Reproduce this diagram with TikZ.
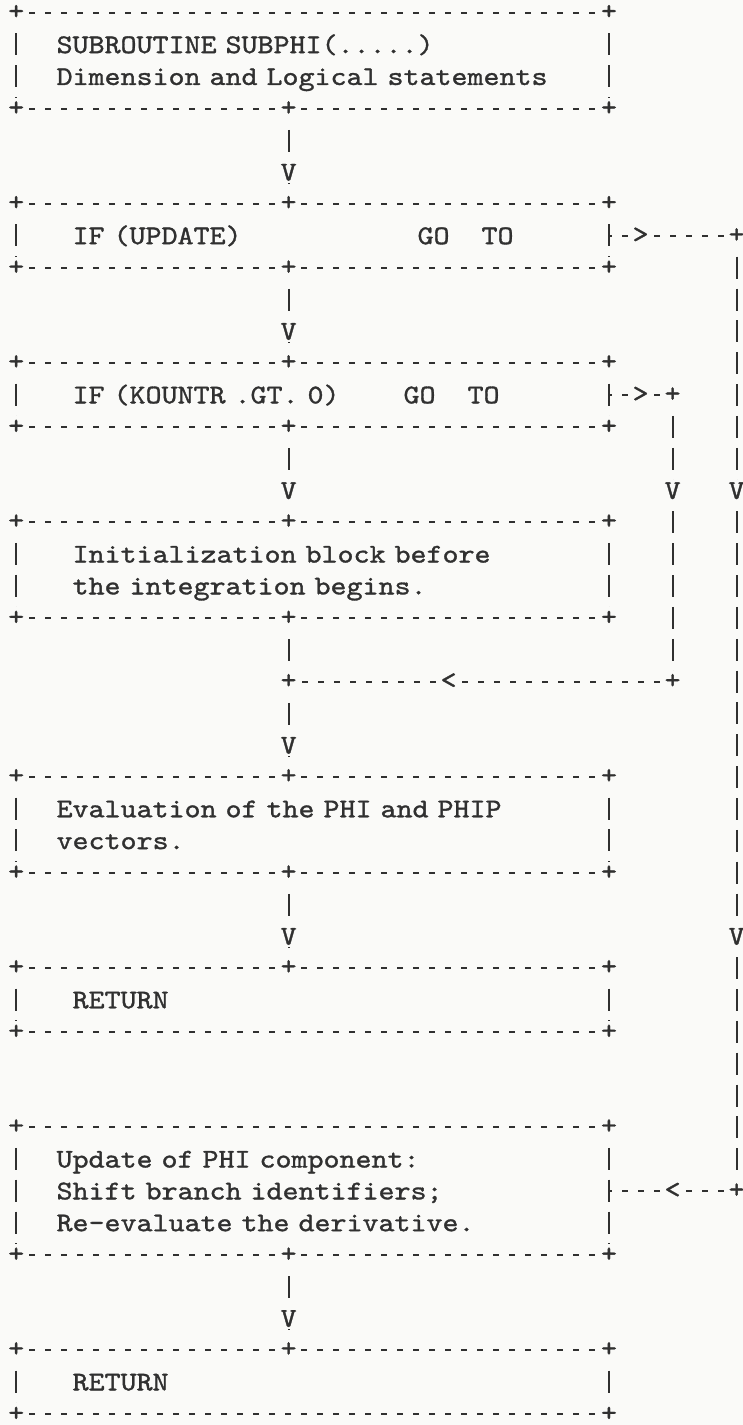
\documentclass[tikz,border=0pt]{standalone}
\usepackage{fontspec}
\newfontfamily\tw{lmmono10-regular.otf}[FakeStretch=1.1287,FakeBold=1.2,WordSpace={1,0,0}]
\usetikzlibrary{calc}
\definecolor{ink}{RGB}{48,48,48}
\definecolor{paper}{RGB}{250,250,248}
\pgfdeclarelayer{paperlayer}
\pgfdeclarelayer{linelayer}
\pgfsetlayers{paperlayer,linelayer,main}
\newcommand\tfont{\tw\fontsize{13.5pt}{15.92pt}\selectfont\frenchspacing}
\newcommand\frameit[1]{%
  \draw[hdash] (#1.north west) -- (#1.north east);
  \draw[hdash] (#1.south west) -- (#1.south east);
  \draw[vdash] (#1.north west) -- (#1.south west);
  \draw[vdash] (#1.north east) -- (#1.south east);}
\newcommand\cornerplus[1]{%
  \node[pluschar] (#1-nw) at (#1.north west) {+};
  \node[pluschar] (#1-ne) at (#1.north east) {+};
  \node[pluschar] (#1-sw) at (#1.south west) {+};
  \node[pluschar] (#1-se) at (#1.south east) {+};}
\tikzset{
  asciibox/.style={rectangle, inner xsep=4pt, inner ysep=0pt, text width=288pt,
    align=left, minimum width=296pt, font=\tfont, text=ink, text height=8.25pt, text depth=0pt},
  glyph/.style={inner sep=0pt, fill=paper, font=\tfont, text=ink,
    minimum width=6.6pt, minimum height=11pt},
  pluschar/.style={glyph, text height=6.75pt, text depth=0pt},
  vchar/.style={glyph, text height=8.25pt, text depth=0pt},
  ltgt/.style={glyph, text height=6.75pt, text depth=0pt},
  hdash/.style={draw=ink, line width=0.95pt, dash pattern=on 3pt off 5pt, dash phase=1.5pt},
  vdash/.style={draw=ink, line width=0.95pt, dash pattern=on 11pt off 4.92pt, dash phase=5.5pt},
}
\begin{document}
\begin{tikzpicture}[x=8pt, y=-15.92pt]
\begin{pgfonlayer}{paperlayer}
  \fill[paper] (-8.3pt,6.5pt) rectangle (363.2pt,-706pt);
\end{pgfonlayer}
\useasboundingbox (-8.3pt,6.5pt) rectangle (363.2pt,-706pt);

% boxes
\node[asciibox, minimum height=47.76pt, text depth=15.92pt] (b1) at (18.5,1.5)
  {\hspace*{16pt}SUBROUTINE SUBPHI(.....)\\\hspace*{16pt}Dimension and Logical statements};
\node[asciibox, minimum height=31.84pt] (b2) at (18.5,7)
  {\hspace*{24pt}IF (UPDATE)\hspace*{88pt}GO\hspace*{16pt}TO};
\node[asciibox, minimum height=31.84pt] (b3) at (18.5,12)
  {\hspace*{24pt}IF (KOUNTR .GT. 0)\hspace*{32pt}GO\hspace*{16pt}TO};
\node[asciibox, minimum height=47.76pt, text depth=15.92pt] (b4) at (18.5,17.5)
  {\hspace*{24pt}Initialization block before\\\hspace*{24pt}the integration begins.};
\node[asciibox, minimum height=47.76pt, text depth=15.92pt] (b5) at (18.5,25.5)
  {\hspace*{16pt}Evaluation of the PHI and PHIP\\\hspace*{16pt}vectors.};
\node[asciibox, minimum height=31.84pt] (b6) at (18.5,31)
  {\hspace*{24pt}RETURN};
\node[asciibox, minimum height=63.68pt, text depth=31.84pt] (b7) at (18.5,37)
  {\hspace*{16pt}Update of PHI component:\\\hspace*{16pt}Shift branch identifiers;\\\hspace*{16pt}Re-evaluate the derivative.};
\node[asciibox, minimum height=31.84pt] (b8) at (18.5,43)
  {\hspace*{24pt}RETURN};

% corner pluses
\cornerplus{b1}\cornerplus{b2}\cornerplus{b3}\cornerplus{b4}
\cornerplus{b5}\cornerplus{b6}\cornerplus{b7}\cornerplus{b8}

% main-flow arrowheads and junction
\node[vchar] (v1) at (17,5) {V};
\node[vchar] (v2) at (17,10) {V};
\node[vchar] (v3) at (17,15) {V};
\node[pluschar] (j1) at (17,21) {+};
\node[vchar] (v4) at (17,23) {V};
\node[vchar] (v5) at (17,29) {V};
\node[vchar] (v6) at (17,41) {V};

% junction pluses on box edges
\node[pluschar] (b1-s) at (b1.south -| v1) {+};
\node[pluschar] (b2-n) at (b2.north -| v1) {+};
\node[pluschar] (b2-s) at (b2.south -| v1) {+};
\node[pluschar] (b3-n) at (b3.north -| v1) {+};
\node[pluschar] (b3-s) at (b3.south -| v1) {+};
\node[pluschar] (b4-n) at (b4.north -| v1) {+};
\node[pluschar] (b4-s) at (b4.south -| v1) {+};
\node[pluschar] (b5-n) at (b5.north -| v1) {+};
\node[pluschar] (b5-s) at (b5.south -| v1) {+};
\node[pluschar] (b6-n) at (b6.north -| v1) {+};
\node[pluschar] (b7-s) at (b7.south -| v1) {+};
\node[pluschar] (b8-n) at (b8.north -| v1) {+};

% loop A (KOUNTR)
\node[ltgt] (gtA) at (39,12) {>};
\node[pluschar] (cA1) at (41,12) {+};
\node[vchar] (vA) at (41,15) {V};
\node[pluschar] (cA2) at (41,21) {+};
\node[ltgt] (ltA) at (27,21) {<};

% loop B (UPDATE)
\node[ltgt] (gtB) at (39,7) {>};
\node[pluschar] (cB1) at (45,7) {+};
\node[vchar] (vB1) at (45,15) {V};
\node[vchar] (vB2) at (45,29) {V};
\node[pluschar] (cB2) at (45,37) {+};
\node[ltgt] (ltB) at (41,37) {<};

\begin{pgfonlayer}{linelayer}
  \frameit{b1}\frameit{b2}\frameit{b3}\frameit{b4}
  \frameit{b5}\frameit{b6}\frameit{b7}\frameit{b8}
  \draw[vdash] (b1-s.center) -- (v1.center) -- (b2-n.center);
  \draw[vdash] (b2-s.center) -- (v2.center) -- (b3-n.center);
  \draw[vdash] (b3-s.center) -- (v3.center) -- (b4-n.center);
  \draw[vdash] (b4-s.center) -- (j1.center) -- (v4.center) -- (b5-n.center);
  \draw[vdash] (b5-s.center) -- (v5.center) -- (b6-n.center);
  \draw[vdash] (b7-s.center) -- (v6.center) -- (b8-n.center);
  \draw[hdash] (b3.east) -- (gtA.center) -- (cA1.center);
  \draw[vdash] (cA1.center) -- (vA.center) -- (cA2.center);
  \draw[hdash] (cA2.center) -- (ltA.center) -- (j1.center);
  \draw[hdash] (b2.east) -- (gtB.center) -- (cB1.center);
  \draw[vdash] (cB1.center) -- (vB1.center) -- (vB2.center) -- (cB2.center);
  \draw[hdash] (cB2.center) -- (ltB.center) -- (b7.east);
\end{pgfonlayer}
\end{tikzpicture}
\end{document}
